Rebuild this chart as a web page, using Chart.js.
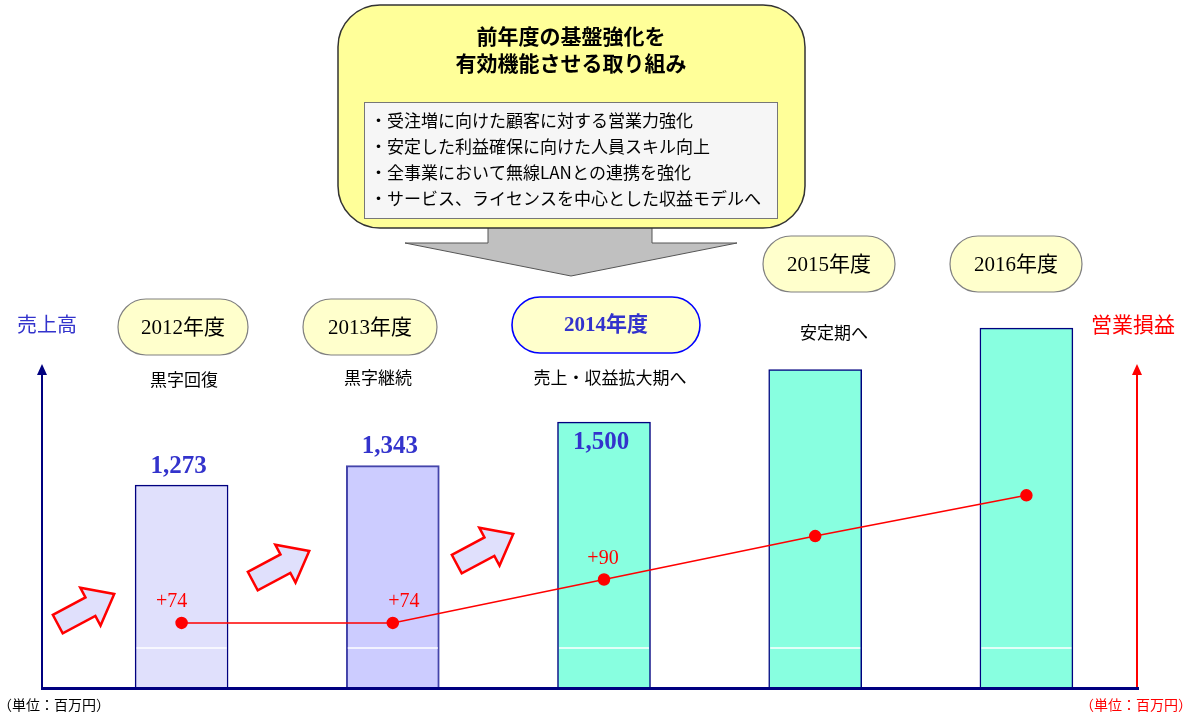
<!DOCTYPE html>
<html>
<head>
<meta charset="utf-8">
<script src="https://cdn.jsdelivr.net/npm/chart.js@4/dist/chart.umd.min.js"></script>
<style>
  html, body { margin: 0; padding: 0; background: #fff; }
  #wrap { width: 1192px; height: 720px; }
</style>
</head>
<body>
<div id="wrap"><canvas id="chart" width="1192" height="720"></canvas></div>
<script>
// data
var years = ['2012年度', '2013年度', '2014年度', '2015年度', '2016年度'];
var sales = [1273, 1343, 1500, 1690, 1840];          // 売上高 (2015/2016)
var salesLabels = ['1,273', '1,343', '1,500', '', ''];
var profit = [74, 74, 90, 106, 121];                 // 営業損益
var profitLabels = ['+74', '+74', '+90', '', ''];
var phases = ['黒字回復', '黒字継続', '売上・収益拡大期へ', '安定期へ', ''];
var calloutTitle = ['前年度の基盤強化を', '有効機能させる取り組み'];
var calloutItems = [
  '・受注増に向けた顧客に対する営業力強化',
  '・安定した利益確保に向けた人員スキル向上',
  '・全事業において無線LANとの連携を強化',
  '・サービス、ライセンスを中心とした収益モデルへ'
];

var SANS = '"Noto Sans CJK JP", "Noto Sans", sans-serif';
var SERIF = '"Liberation Serif", "DejaVu Serif", "Noto Sans CJK JP", serif';

var barColors = ['#E0E0FC', '#CCCCFF', '#88FFE0', '#88FFE0', '#88FFE0'];
var barBorders = ['#000080', '#4444AA', '#000080', '#000080', '#000080'];

function roundRect(ctx, x, y, w, h, r) {
  ctx.beginPath();
  ctx.moveTo(x + r, y);
  ctx.lineTo(x + w - r, y);
  ctx.arcTo(x + w, y, x + w, y + r, r);
  ctx.lineTo(x + w, y + h - r);
  ctx.arcTo(x + w, y + h, x + w - r, y + h, r);
  ctx.lineTo(x + r, y + h);
  ctx.arcTo(x, y + h, x, y + h - r, r);
  ctx.lineTo(x, y + r);
  ctx.arcTo(x, y, x + r, y, r);
  ctx.closePath();
}

function pill(ctx, cx, cy, w, h, text, opt) {
  roundRect(ctx, cx - w / 2, cy - h / 2, w, h, h / 2);
  ctx.fillStyle = '#FFFFCC';
  ctx.fill();
  ctx.lineWidth = opt.lw;
  ctx.strokeStyle = opt.border;
  ctx.stroke();
  ctx.fillStyle = opt.color;
  ctx.font = (opt.bold ? 'bold ' : '') + '21px ' + SERIF;
  ctx.textAlign = 'center';
  ctx.textBaseline = 'middle';
  ctx.fillText(text, cx, cy + 1);
}

function blockArrow(ctx, cx, cy, ang) {
  var L = 64, sw = 21, hw = 43, hl = 27;
  ctx.save();
  ctx.translate(cx, cy);
  ctx.rotate(ang);
  ctx.beginPath();
  ctx.moveTo(-L / 2, -sw / 2);
  ctx.lineTo(L / 2 - hl, -sw / 2);
  ctx.lineTo(L / 2 - hl, -hw / 2);
  ctx.lineTo(L / 2, 0);
  ctx.lineTo(L / 2 - hl, hw / 2);
  ctx.lineTo(L / 2 - hl, sw / 2);
  ctx.lineTo(-L / 2, sw / 2);
  ctx.closePath();
  ctx.fillStyle = '#E0E0FC';
  ctx.fill();
  ctx.lineWidth = 2.5;
  ctx.lineJoin = 'miter';
  ctx.strokeStyle = '#FF0000';
  ctx.stroke();
  ctx.restore();
}

function arrowHead(ctx, x, y, color) {
  ctx.beginPath();
  ctx.moveTo(x, y);
  ctx.lineTo(x - 5, y + 11);
  ctx.lineTo(x + 5, y + 11);
  ctx.closePath();
  ctx.fillStyle = color;
  ctx.fill();
}

var decor = {
  id: 'decor',
  afterDatasetDraw: function(chart, args) {
    if (args.index !== 0) return;
    var ctx = chart.ctx;
    var base = chart.chartArea.bottom;
    // thin white line inside each bar
    ctx.save();
    ctx.strokeStyle = '#FFFFFF';
    ctx.lineWidth = 1.5;
    args.meta.data.forEach(function(bar) {
      ctx.beginPath();
      ctx.moveTo(bar.x - bar.width / 2 + 1.5, base - 40);
      ctx.lineTo(bar.x + bar.width / 2 - 1.5, base - 40);
      ctx.stroke();
    });
    // value labels of sales
    ctx.fillStyle = '#3333CC';
    ctx.font = 'bold 25px ' + SERIF;
    ctx.textAlign = 'center';
    ctx.textBaseline = 'middle';
    args.meta.data.forEach(function(bar, i) {
      if (!salesLabels[i]) return;
      var y = i === 2 ? bar.y + 20 : bar.y - 19;
      ctx.fillText(salesLabels[i], bar.x - 3, y);
    });
    ctx.restore();
  },
  afterDraw: function(chart) {
    var ctx = chart.ctx;
    var base = chart.chartArea.bottom;
    ctx.save();

    // axes
    ctx.strokeStyle = '#000080';
    ctx.lineWidth = 2;
    ctx.beginPath(); ctx.moveTo(42, base); ctx.lineTo(42, 372); ctx.stroke();
    arrowHead(ctx, 42, 364, '#000080');
    ctx.strokeStyle = '#FF0000';
    ctx.beginPath(); ctx.moveTo(1137, base); ctx.lineTo(1137, 372); ctx.stroke();
    arrowHead(ctx, 1137, 364, '#FF0000');
    ctx.strokeStyle = '#000080';
    ctx.lineWidth = 3;
    ctx.beginPath(); ctx.moveTo(41, base + 0.5); ctx.lineTo(1139, base + 0.5); ctx.stroke();

    // axis titles + units
    ctx.textAlign = 'center';
    ctx.textBaseline = 'middle';
    ctx.font = '20px ' + SANS;
    ctx.fillStyle = '#3333CC';
    ctx.fillText('売上高', 47, 324);
    ctx.font = '21px ' + SANS;
    ctx.fillStyle = '#FF0000';
    ctx.fillText('営業損益', 1133, 324);
    ctx.font = '14px ' + SANS;
    ctx.fillStyle = '#000000';
    ctx.textAlign = 'left';
    ctx.fillText('（単位：百万円）', -2, 705);
    ctx.fillStyle = '#FF0000';
    ctx.textAlign = 'right';
    ctx.fillText('（単位：百万円）', 1192, 705);

    // profit labels
    var lineMeta = chart.getDatasetMeta(1);
    var dx = [-10, 11, -1, 0, 0];
    ctx.font = '20px ' + SERIF;
    ctx.fillStyle = '#FF0000';
    ctx.textAlign = 'center';
    lineMeta.data.forEach(function(pt, i) {
      if (!profitLabels[i]) return;
      ctx.fillText(profitLabels[i], pt.x + dx[i], pt.y - 21);
    });

    // year pills
    var pills = [[183, 327, 130, 56], [370, 327, 134, 56], [606, 325, 188, 56], [829, 264, 132, 56], [1016, 264, 132, 56]];
    pills.forEach(function(p, i) {
      var hi = i === 2;
      pill(ctx, p[0], p[1], p[2], p[3], years[i], {
        lw: hi ? 1.6 : 1.2,
        border: hi ? '#0000FF' : '#808080',
        color: hi ? '#3333CC' : '#000000',
        bold: hi
      });
    });

    // phase captions
    var caps = [[184, 380], [378, 378], [610, 378], [834, 333]];
    ctx.font = '17px ' + SANS;
    ctx.fillStyle = '#000000';
    caps.forEach(function(c, i) {
      ctx.fillText(phases[i], c[0], c[1]);
    });

    // small block arrows
    blockArrow(ctx, 86, 609, -0.49);
    blockArrow(ctx, 281, 566, -0.49);
    blockArrow(ctx, 485, 549, -0.49);

    // big down arrow
    ctx.beginPath();
    ctx.moveTo(488, 215);
    ctx.lineTo(652, 215);
    ctx.lineTo(652, 243);
    ctx.lineTo(737, 243);
    ctx.lineTo(571, 276);
    ctx.lineTo(405, 243);
    ctx.lineTo(488, 243);
    ctx.closePath();
    ctx.fillStyle = '#C0C0C0';
    ctx.fill();
    ctx.lineWidth = 1;
    ctx.strokeStyle = '#555555';
    ctx.stroke();

    // callout
    roundRect(ctx, 338, 5, 467, 223, 42);
    ctx.fillStyle = '#FFFF99';
    ctx.fill();
    ctx.lineWidth = 1.5;
    ctx.strokeStyle = '#333333';
    ctx.stroke();

    ctx.fillStyle = '#000000';
    ctx.font = 'bold 21px ' + SANS;
    ctx.textAlign = 'center';
    ctx.fillText(calloutTitle[0], 571, 36);
    ctx.fillText(calloutTitle[1], 571, 63);

    ctx.fillStyle = '#F6F6F6';
    ctx.fillRect(364.5, 102.5, 413, 116);
    ctx.strokeStyle = '#777777';
    ctx.lineWidth = 1;
    ctx.strokeRect(364.5, 102.5, 413, 116);
    ctx.fillStyle = '#000000';
    ctx.font = '17px ' + SANS;
    ctx.textAlign = 'left';
    var ys = [121, 147, 173, 199];
    calloutItems.forEach(function(t, i) {
      ctx.fillText(t, 370, ys[i]);
    });

    ctx.restore();
  }
};

new Chart(document.getElementById('chart'), {
  type: 'bar',
  data: {
    labels: years,
    datasets: [{
      type: 'bar',
      label: '売上高',
      data: sales,
      backgroundColor: barColors,
      borderColor: barBorders,
      borderWidth: [1.5, 2, 1.5, 1.5, 1.5],
      borderSkipped: false,
      barThickness: 93,
      yAxisID: 'y',
      order: 2
    }, {
      type: 'line',
      label: '営業損益',
      data: profit,
      borderColor: '#FF0000',
      backgroundColor: '#FF0000',
      borderWidth: 1.5,
      pointRadius: 5.5,
      pointHoverRadius: 5.5,
      tension: 0,
      yAxisID: 'y1',
      order: 1
    }]
  },
  options: {
    responsive: false,
    animation: false,
    layout: { padding: { left: 76, right: 60, top: 281, bottom: 32 } },
    plugins: { legend: { display: false }, tooltip: { enabled: false } },
    scales: {
      x: { display: false, offset: true },
      y: { display: false, min: 540, max: 2010 },
      y1: { display: false, position: 'right', min: 50, max: 200 }
    }
  },
  plugins: [decor]
});
</script>
</body>
</html>
